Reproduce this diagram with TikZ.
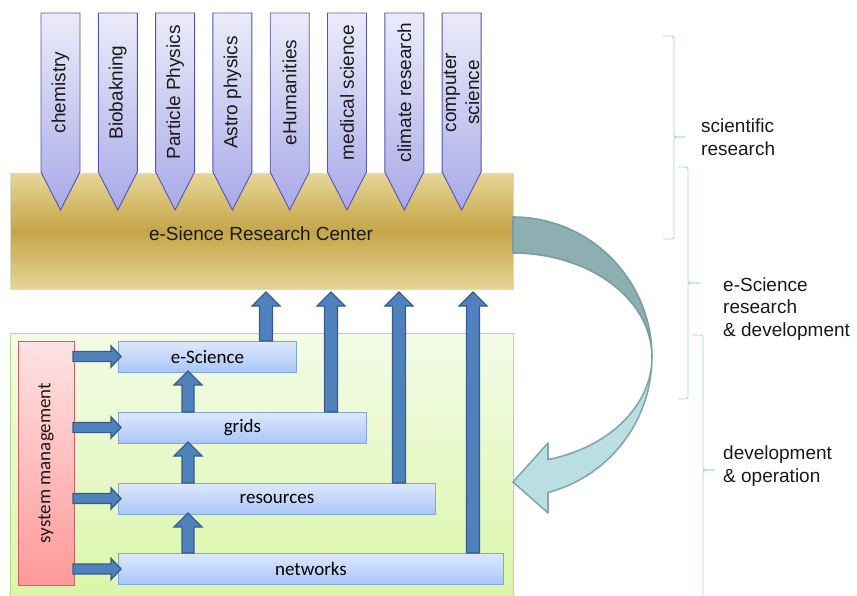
\documentclass[tikz,border=0pt]{standalone}
\usepackage{fontspec}
\setmainfont{Liberation Sans}
\newfontfamily\calfont{Carlito}
\usetikzlibrary{calc}
\definecolor{goldA}{HTML}{E6D697}
\definecolor{goldB}{HTML}{C5A548}
\definecolor{goldedge}{HTML}{D8DCCB}
\definecolor{lavA}{HTML}{EBEBFA}
\definecolor{lavB}{HTML}{A9A9E8}
\definecolor{lavedge}{HTML}{5555B0}
\definecolor{blueA}{HTML}{DDE8FE}
\definecolor{blueB}{HTML}{A9C6F6}
\definecolor{blueedge}{HTML}{7FA6DE}
\definecolor{blkfill}{HTML}{4F81BD}
\definecolor{blkedge}{HTML}{385D8A}
\definecolor{greenA}{HTML}{F4FBE8}
\definecolor{greenB}{HTML}{D9F6A6}
\definecolor{greenedge}{HTML}{B4D98A}
\definecolor{redA}{HTML}{FFE3E3}
\definecolor{redB}{HTML}{FF9999}
\definecolor{rededge}{HTML}{D06060}
\definecolor{curvdark}{HTML}{8EAFB1}
\definecolor{curvdarkedge}{HTML}{7C9D9F}
\definecolor{curvlight}{HTML}{BADFE3}
\definecolor{curvlightedge}{HTML}{86A7A9}
\definecolor{brkcol}{HTML}{A8D4DA}
\definecolor{txt}{HTML}{1A1A1A}
\tikzset{
  goldbar/.style={draw=goldedge, line width=0.8pt, top color=goldA, bottom color=goldA, middle color=goldB, inner sep=0pt, anchor=north west, text=txt, font=\fontsize{19}{23}\selectfont},
  toparr/.style={draw=lavedge, line width=0.9pt, top color=lavA, bottom color=lavB},
  toptext/.style={rotate=90, align=center, inner sep=0pt, text=txt, font=\fontsize{19}{23}\selectfont},
  greenbox/.style={draw=greenedge, line width=0.9pt, top color=greenA, bottom color=greenB, inner sep=0pt, anchor=north west},
  redbox/.style={draw=rededge, line width=0.9pt, top color=redA, bottom color=redB, inner sep=0pt},
  bluebox/.style={draw=blueedge, line width=0.9pt, top color=blueA, bottom color=blueB, inner sep=0pt, anchor=north west, minimum height=31pt, text=black, font=\calfont\fontsize{19}{23}\selectfont},
  blk/.style={draw=blkedge, line width=1.4pt, fill=blkfill, line join=miter},
  brk/.style={draw=brkcol, line width=0.9pt, rounded corners=2.5pt},
  rtext/.style={anchor=west, align=left, inner sep=0pt, text=txt, font=\fontsize{19}{22.5}\selectfont},
  curvdk/.style={draw=curvdarkedge, line width=1.6pt, fill=curvdark, line join=round},
  curvlt/.style={draw=curvlightedge, line width=1.6pt, fill=curvlight, line join=round}
}
\newcommand\myupblk[4]{%
  \draw[blk] ({#1-#4},#2) -- ({#1-#4},{#3+14}) -- ({#1-14},{#3+14}) -- (#1,#3) -- ({#1+14},{#3+14}) -- ({#1+#4},{#3+14}) -- ({#1+#4},#2) -- cycle;}
\newcommand\myrightblk[1]{%
  \draw[blk] (73,{#1-5}) -- (111,{#1-5}) -- (111,{#1-10.5}) -- (121,#1) -- (111,{#1+10.5}) -- (111,{#1+5}) -- (73,{#1+5}) -- cycle;}
\newcommand\mytoparrow[3]{%
  \draw[toparr] (#2,13) -- ({#2+39},13) -- ({#2+39},172) -- ({#2+19.5},210) -- (#2,172) -- cycle;
  \node[toptext] (#1) at ({#2+19.5},92.5) {#3};}
\begin{document}
\begin{tikzpicture}[x=1pt,y=-1pt]
\useasboundingbox[fill=white] (0,0) rectangle (857,596);

% research center bar
\node[goldbar, minimum width=503pt, minimum height=116pt] (rc) at (10,173) {};
\node[text=txt, font=\fontsize{19}{23}\selectfont, inner sep=0pt] (rclabel) at (261,234) {e-Sience Research Center};

% top arrows
\mytoparrow{chem}{41}{chemistry}
\mytoparrow{bio}{98.3}{Biobakning}
\mytoparrow{part}{155.6}{Particle Physics}
\mytoparrow{astro}{212.9}{Astro physics}
\mytoparrow{ehum}{270.2}{eHumanities}
\mytoparrow{med}{327.5}{medical science}
\mytoparrow{clim}{384.8}{climate research}
\mytoparrow{comp}{442.1}{computer\\science}

% development box
\node[greenbox, minimum width=503pt, minimum height=272pt] (dev) at (10,333) {};
\node[redbox, minimum width=56pt, minimum height=244pt,
      label={[rotate=90, inner sep=0pt, text=txt, font=\calfont\fontsize{19}{23}\selectfont]center:system management}] (sys) at (46,463) {};

\node[bluebox, minimum width=178pt] (esci) at (118,341) {e-Science};
\node[bluebox, minimum width=248pt] (grids) at (118,412) {grids};
\node[bluebox, minimum width=317pt] (res) at (118,483) {resources};
\node[bluebox, minimum width=385pt] (net) at (118,553) {networks};

% horizontal arrows from system management
\myrightblk{356.5}
\myrightblk{427.5}
\myrightblk{498.5}
\myrightblk{569}

% short vertical arrows
\myupblk{188}{412}{371}{6}
\myupblk{188}{483}{442}{6}
\myupblk{188}{553}{513}{6}

% long vertical arrows to research center
\myupblk{266}{341}{292}{6.5}
\myupblk{331}{412}{292}{6.5}
\myupblk{399}{483}{292}{6.5}
\myupblk{473}{553}{292}{6.5}

% curved arrow
\draw[curvdk] plot[domain=-90:0, samples=40] ({513+139*cos(\x)},{357+140*sin(\x)})
   -- plot[domain=0:-90, samples=40] ({513+139*cos(\x)},{357+104*sin(\x)}) -- cycle;
\draw[curvlt] plot[domain=0:75.4, samples=40] ({513+139*cos(\x)},{357+140*sin(\x)})
   -- (548,513) -- (513,482) -- (548,443)
   -- plot[domain=75.4:0, samples=40] ({513+139*cos(\x)},{357+106*sin(\x)}) -- cycle;

% brackets
\draw[brk] (663,36) -- (674,36) -- (674,137) -- (685,137);
\draw[brk] (685,137) -- (674,137) -- (674,239) -- (663,239);
\draw[brk] (678,167) -- (688,167) -- (688,283) -- (700,283);
\draw[brk] (700,283) -- (688,283) -- (688,399) -- (678,399);
\draw[brk] (692,335) -- (703,335) -- (703,470) -- (715,470);
\draw[brk] (715,470) -- (703,470) -- (703,598);

% right labels
\node[rtext] (scires) at (701,137) {scientific\\research};
\node[rtext] (esrd) at (723,309) {e-Science\\research\\\& development};
\node[rtext] (devop) at (723,466) {development\\\& operation};
\end{tikzpicture}
\end{document}
